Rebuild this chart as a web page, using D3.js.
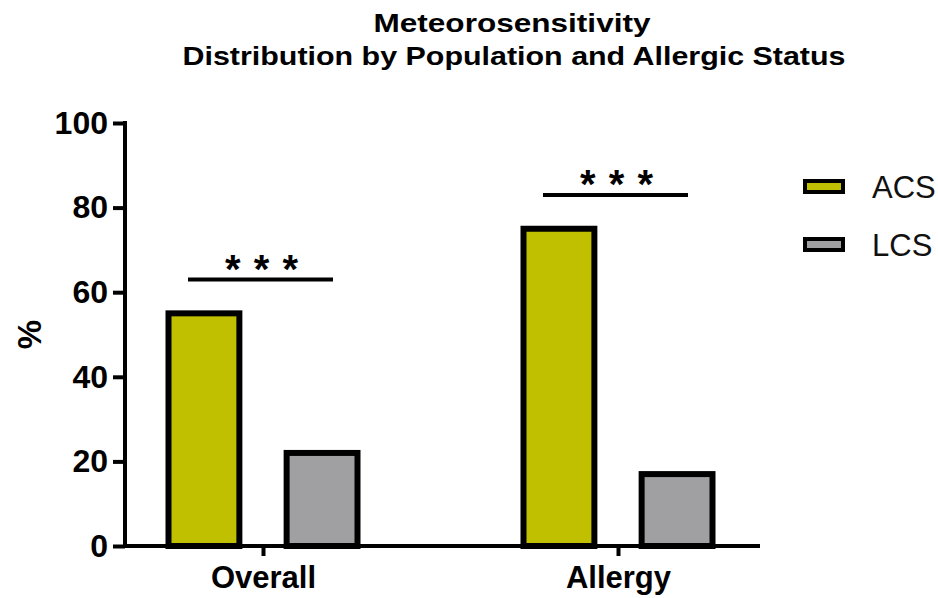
<!DOCTYPE html>
<html>
<head>
<meta charset="utf-8">
<script src="https://cdn.jsdelivr.net/npm/d3@7"></script>
<style>
  body { margin: 0; background: #fff; }
  svg { display: block; font-family: "Liberation Sans", Arial, sans-serif; }
</style>
</head>
<body>
<svg id="chart" width="938" height="598"></svg>
<script>
const categories = ['Overall', 'Allergy'];
const seriesNames = ['ACS', 'LCS'];
const acsValues = [55, 75];
const lcsValues = [22, 17];
const sigLevels = [63, 83];
const sigLabels = ['***', '***'];
const yTicks = [0, 20, 40, 60, 80, 100];

const colors = { ACS: '#c0c000', LCS: '#a0a0a3' };

const svg = d3.select('#chart');

const y = d3.scaleLinear().domain([0, 100]).range([546, 123]);
const x0 = d3.scalePoint().domain(categories).range([263, 618]);
const x1 = d3.scaleBand().domain(seriesNames).range([-94.5, 94.5]).paddingInner(0.4);

const data = categories.flatMap((c, i) => [
  { cat: c, series: 'ACS', value: acsValues[i] },
  { cat: c, series: 'LCS', value: lcsValues[i] }
]);

// title
const title = svg.append('g')
  .attr('text-anchor', 'middle')
  .style('font-weight', 'bold')
  .style('font-size', '26px')
  .attr('fill', '#000');
title.append('text').attr('x', 512).attr('y', 32)
  .attr('textLength', 277).attr('lengthAdjust', 'spacingAndGlyphs')
  .text('Meteorosensitivity');
title.append('text').attr('x', 514).attr('y', 65)
  .attr('textLength', 663).attr('lengthAdjust', 'spacingAndGlyphs')
  .text('Distribution by Population and Allergic Status');

// bars
svg.append('g')
  .selectAll('rect')
  .data(data)
  .enter()
  .append('rect')
  .attr('x', d => x0(d.cat) + x1(d.series))
  .attr('y', d => y(d.value))
  .attr('width', x1.bandwidth())
  .attr('height', d => y(0) - y(d.value))
  .attr('fill', d => colors[d.series])
  .attr('stroke', '#000')
  .attr('stroke-width', 6);

// y axis
const yAxis = svg.append('g')
  .attr('transform', 'translate(125,0)')
  .call(d3.axisLeft(y).tickValues(yTicks).tickSize(12).tickPadding(5));
yAxis.select('.domain').attr('stroke-width', 4).attr('d', `M0,${y(100) - 2}V${y(0) + 2}`);
yAxis.selectAll('.tick line').attr('stroke-width', 4);
yAxis.selectAll('.tick text')
  .style('font-size', '32px')
  .style('font-weight', 'bold')
  .style('font-family', '"Liberation Sans", Arial, sans-serif')
  .attr('fill', '#000');

svg.append('text')
  .attr('transform', `translate(41,${(y(0) + y(100)) / 2}) rotate(-90)`)
  .attr('text-anchor', 'middle')
  .style('font-size', '33px')
  .style('font-weight', 'bold')
  .text('%');

// x axis
const xAxis = svg.append('g')
  .attr('transform', `translate(0,${y(0)})`)
  .call(d3.axisBottom(x0).tickSize(10).tickPadding(10));
xAxis.select('.domain').attr('stroke-width', 4).attr('d', 'M123,0H760');
xAxis.selectAll('.tick line').attr('stroke-width', 4);
xAxis.selectAll('.tick text')
  .style('font-size', '31px')
  .style('font-weight', 'bold')
  .style('font-family', '"Liberation Sans", Arial, sans-serif')
  .attr('fill', '#000');

// significance markers
const sig = svg.append('g')
  .selectAll('g')
  .data(categories.map((c, i) => ({ cat: c, level: sigLevels[i], label: sigLabels[i] })))
  .enter()
  .append('g');
sig.append('line')
  .attr('x1', d => x0(d.cat) - 75)
  .attr('x2', d => x0(d.cat) + 70)
  .attr('y1', d => y(d.level))
  .attr('y2', d => y(d.level))
  .attr('stroke', '#000')
  .attr('stroke-width', 4);
sig.append('text')
  .attr('x', d => x0(d.cat) - 1)
  .attr('y', d => y(d.level) + 3)
  .attr('text-anchor', 'middle')
  .style('font-size', '40px')
  .style('font-weight', 'bold')
  .style('letter-spacing', '1px')
  .text(d => d.label.split('').join(' '));

// legend
const legend = svg.append('g')
  .selectAll('g')
  .data(seriesNames)
  .enter()
  .append('g')
  .attr('transform', (d, i) => `translate(805,${187 + i * 58})`);
legend.append('rect')
  .attr('x', 0)
  .attr('y', -6)
  .attr('width', 38)
  .attr('height', 11)
  .attr('fill', d => colors[d])
  .attr('stroke', '#000')
  .attr('stroke-width', 4);
legend.append('text')
  .attr('x', 67)
  .attr('y', 11)
  .style('font-size', '31px')
  .attr('fill', '#111')
  .text(d => d);
</script>
</body>
</html>
